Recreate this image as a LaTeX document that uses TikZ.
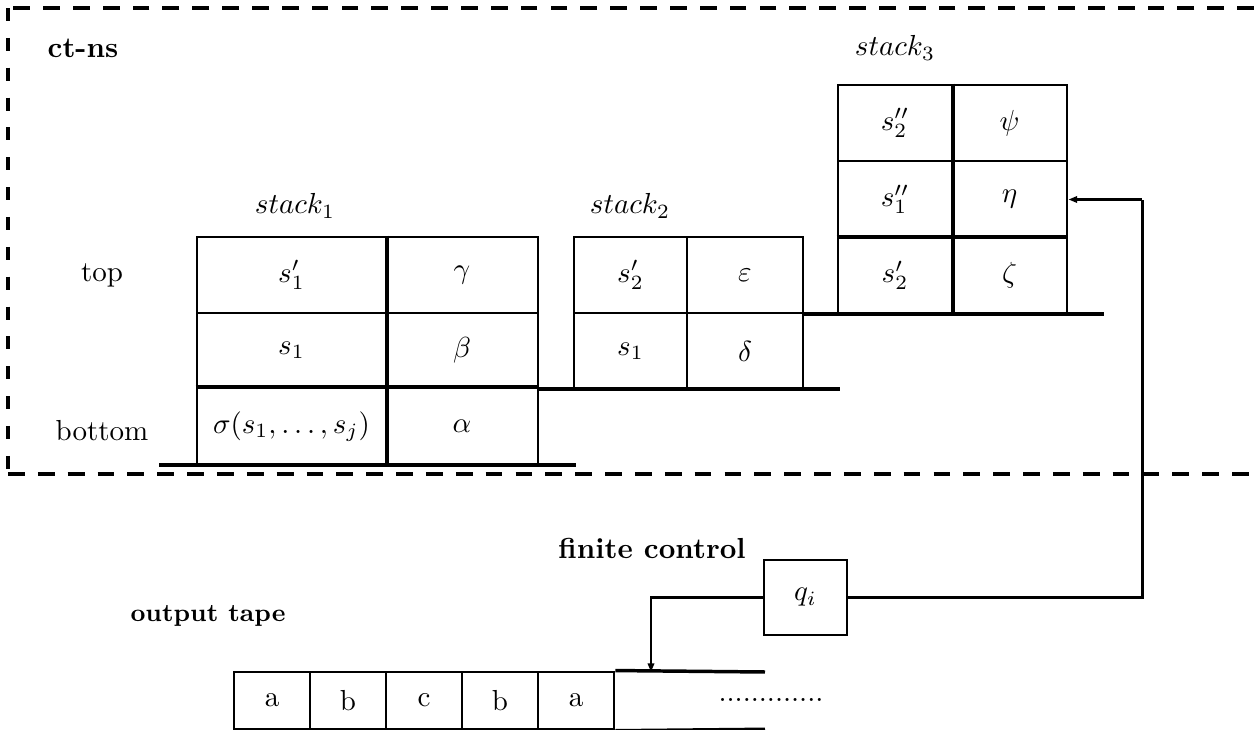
\documentclass[tikz,border=0pt]{standalone}
\usetikzlibrary{arrows.meta,calc}
\begin{document}
\begin{tikzpicture}[x=0.345pt,y=-0.345pt,
  cell/.style 2 args={draw,line width=1pt,inner sep=0pt,
    minimum width=#1*0.345pt,minimum height=#2*0.345pt},
  divider/.style={line width=1.3pt},
  base/.style={line width=1.35pt},
  frameh/.style={line width=1.2pt,dash pattern=on 5.8pt off 4.5pt},
  framev/.style={line width=1.2pt,dash pattern=on 4.5pt off 5.8pt},
  conn/.style={line width=0.75pt,-{Triangle[length=3pt,width=2.2pt]}},
  plain/.style={line width=0.75pt},
  title/.style={font=\bfseries},
  lbl/.style={inner sep=0pt}]
\useasboundingbox (0,0) rectangle (1254,730);

% dashed frame of the ct-ns
\draw[frameh] (1254,8) -- (8,8);
\draw[framev] (8,8) -- (8,474);
\draw[frameh] (8,474) -- (1254,474);

\node[title,lbl] (ctns) at (83,48) {ct-ns};

% stack 1
\node[lbl] (st1) at (295,206) {$stack_1$};
\node[lbl] (top) at (102,275) {top};
\node[lbl] (bot) at (102,431) {bottom};
\node[cell={189}{76}] (a1) at (291.5,275) {$s'_1$};
\node[cell={152}{76}] (a2) at (462,275) {$\gamma$};
\node[cell={189}{75}] (b1) at (291.5,350.5) {$s_1$};
\node[cell={152}{75}] (b2) at (462,350.5) {$\beta$};
\node[cell={189}{77}] (c1) at (291.5,426.5) {$\sigma(s_1,\ldots,s_j)$};
\node[cell={152}{77}] (c2) at (462,426.5) {$\alpha$};
\draw[divider] (a1.north east) -- (c1.south east);
\draw[divider] (c1.north west) -- (c2.north east);
\draw[base] (159,465) -- (576,465);

% stack 2
\node[lbl] (st2) at (630,206) {$stack_2$};
\node[cell={113}{76}] (d1) at (630.5,275) {$s'_2$};
\node[cell={116}{76}] (d2) at (745,275) {$\varepsilon$};
\node[cell={113}{76}] (e1) at (630.5,351) {$s_1$};
\node[cell={116}{76}] (e2) at (745,351) {$\delta$};
\draw[base] (538,389) -- (840,389);

% stack 3
\node[lbl] (st3) at (895,48) {$stack_3$};
\node[cell={114}{76}] (f1) at (895,123) {$s''_2$};
\node[cell={115}{76}] (f2) at (1009.5,123) {$\psi$};
\node[cell={114}{77}] (g1) at (895,199.5) {$s''_1$};
\node[cell={115}{77}] (eta) at (1009.5,199.5) {$\eta$};
\node[cell={114}{75}] (h1) at (895,275.5) {$s'_2$};
\node[cell={115}{75}] (h2) at (1009.5,275.5) {$\zeta$};
\draw[divider] (f1.north east) -- (h1.south east);
\draw[divider] (h1.north west) -- (h2.north east);
\draw[base] (803,314) -- (1104,314);

% finite control
\node[title,lbl] (fc) at (652,548) {finite control};
\node[cell={83}{75}] (q) at (805.5,597.5) {$q_i$};

% output tape
\node[lbl,font=\fontsize{8.7}{10}\bfseries] (ot) at (208,616) {output tape};
\node[cell={76}{57}] (t1) at (272,700.5) {a};
\node[cell={76}{57}] (t2) at (348,700.5) {b};
\node[cell={76}{57}] (t3) at (424,700.5) {c};
\node[cell={76}{57}] (t4) at (500,700.5) {b};
\node[cell={76}{57}] (t5) at (576,700.5) {a};
\draw[line width=1.2pt] (t5.north east) -- (765,672);
\draw[line width=1pt] (t5.south east) -- (765,729);
\node[lbl] (dots) at (771,700) {.............};

% connectors
\coordinate (head) at (651,672);
\draw[conn] (q.west) -| (head);
\draw[plain] (q.east) -| ($(eta.east)+(74,0)$);
\draw[conn] ($(eta.east)+(74,0)$) -- (eta.east);
\end{tikzpicture}
\end{document}
